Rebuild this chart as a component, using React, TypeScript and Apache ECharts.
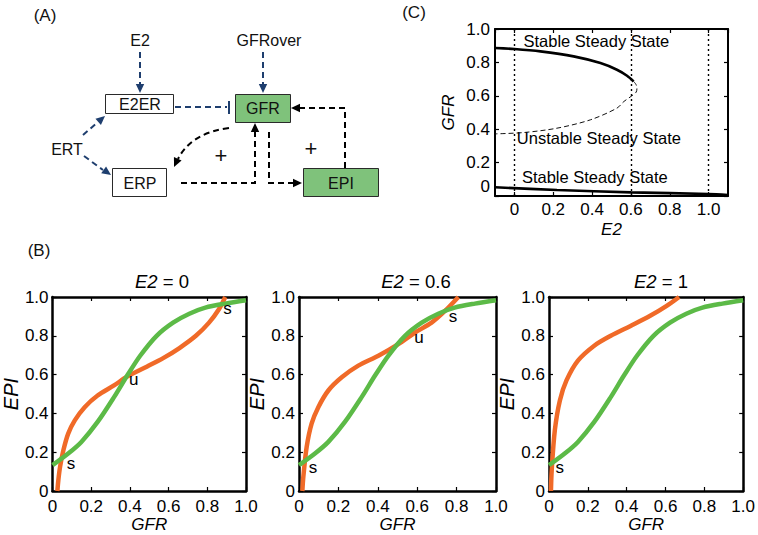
import React, { useEffect, useRef } from 'react';
import * as echarts from 'echarts';

const FONT = '"Liberation Sans", Arial, Helvetica, sans-serif';
const ORANGE = '#f06a28';
const GREEN = '#5cba47';
const BLUE = '#1e3e6e';

// ---------- Panel C: bifurcation diagram (GFR vs E2) ----------
const cUpperStableE2 = [-0.1, 0, 0.134, 0.305, 0.443, 0.528, 0.58, 0.614];
const cUpperStableGFR = [0.886, 0.88, 0.866, 0.836, 0.796, 0.756, 0.72, 0.686];
const cUnstableE2 = [0.614, 0.626, 0.631, 0.627, 0.605, 0.564, 0.528, 0.391, 0.219, 0.048, -0.1];
const cUnstableGFR = [0.686, 0.668, 0.646, 0.622, 0.6, 0.566, 0.526, 0.456, 0.406, 0.38, 0.372];
const cLowerStableE2 = [-0.1, 0.219, 0.6, 1.0, 1.1];
const cLowerStableGFR = [0.052, 0.036, 0.022, 0.012, 0.006];
const cGuideE2 = [0, 0.6, 1.0];
const cRegionText = ['Stable Steady State', 'Unstable Steady State', 'Stable Steady State'];
const cRegionE2 = [0.422, 0.435, 0.414];
const cRegionGFR = [0.93, 0.348, 0.114];

// ---------- Panel B: nullclines (EPI vs GFR) ----------
const panelE2 = ['0', '0.6', '1'];
// EPI nullcline (green), same in all three panels
const greenGFR = [0, 0.081, 0.149, 0.233, 0.318, 0.386, 0.453, 0.538, 0.623, 0.707, 0.79, 0.893, 1.0];
const greenEPI = [0.133, 0.193, 0.253, 0.356, 0.484, 0.595, 0.697, 0.8, 0.868, 0.914, 0.945, 0.966, 0.983];
// GFR nullcline (orange) for E2 = 0, 0.6, 1
const orangeGFR0 = [0.025, 0.03, 0.039, 0.056, 0.081, 0.115, 0.166, 0.233, 0.318, 0.386, 0.487, 0.572, 0.656, 0.741, 0.809, 0.86, 0.893];
const orangeEPI0 = [0, 0.056, 0.125, 0.21, 0.296, 0.364, 0.432, 0.492, 0.544, 0.59, 0.641, 0.685, 0.737, 0.8, 0.868, 0.937, 1.0];
const orangeGFR06 = [0.017, 0.022, 0.039, 0.064, 0.098, 0.149, 0.217, 0.301, 0.403, 0.504, 0.589, 0.673, 0.741, 0.809];
const orangeEPI06 = [0, 0.073, 0.227, 0.347, 0.432, 0.518, 0.586, 0.646, 0.697, 0.757, 0.817, 0.868, 0.928, 1.0];
const orangeGFR1 = [0.01, 0.014, 0.03, 0.056, 0.09, 0.149, 0.233, 0.318, 0.42, 0.521, 0.606, 0.67];
const orangeEPI1 = [0, 0.108, 0.313, 0.467, 0.57, 0.672, 0.749, 0.8, 0.851, 0.903, 0.954, 1.0];
const orangeGFR = [orangeGFR0, orangeGFR06, orangeGFR1];
const orangeEPI = [orangeEPI0, orangeEPI06, orangeEPI1];
// steady-state markers (s = stable, u = unstable)
const markText = [['s', 'u', 's'], ['s', 'u', 's'], ['s']];
const markGFR = [[0.096, 0.42, 0.904], [0.071, 0.609, 0.782], [0.056]];
const markEPI = [[0.144, 0.577, 0.943], [0.119, 0.789, 0.902], [0.119]];

const zip = (a: number[], b: number[]) => a.map((v, i) => [v, b[i]]);

const tickFmt = (v: number) => (Math.abs(v) < 1e-9 ? '0' : v.toFixed(1));

function axesFor(grid: number, x: any, y: any, frameW: number) {
  const line = { show: true, onZero: false, lineStyle: { color: '#000', width: frameW } };
  const tick = { show: true, inside: true, length: 4, lineStyle: { color: '#000', width: 1.2 } };
  const xs = [
    { gridIndex: grid, type: 'value', position: 'bottom', axisLine: line, axisTick: tick, splitLine: { show: false }, ...x },
    { gridIndex: grid, type: 'value', position: 'top', axisLine: line, axisTick: tick, axisLabel: { show: false }, splitLine: { show: false }, min: x.min, max: x.max, interval: x.interval, splitNumber: x.splitNumber },
  ];
  const ys = [
    { gridIndex: grid, type: 'value', position: 'left', axisLine: line, axisTick: tick, splitLine: { show: false }, ...y },
    { gridIndex: grid, type: 'value', position: 'right', axisLine: line, axisTick: tick, axisLabel: { show: false }, splitLine: { show: false }, min: y.min, max: y.max, interval: y.interval },
  ];
  return { xs, ys };
}

function buildDiagram() {
  const els: any[] = [];
  const dashed = (points: number[][], color: string) => ({
    type: 'polyline',
    silent: true,
    shape: { points },
    style: { stroke: color, lineWidth: 2, lineDash: [6, 4], fill: null },
  });
  const head = (tip: number[], from: number[], color: string, len = 9, w = 4.2) => {
    const dx = tip[0] - from[0];
    const dy = tip[1] - from[1];
    const L = Math.hypot(dx, dy);
    const ux = dx / L;
    const uy = dy / L;
    const bx = tip[0] - ux * len;
    const by = tip[1] - uy * len;
    return {
      type: 'polygon',
      silent: true,
      shape: { points: [tip, [bx - uy * w, by + ux * w], [bx + uy * w, by - ux * w]] },
      style: { fill: color },
    };
  };
  const box = (x: number, y: number, w: number, h: number, fill: string) => ({
    type: 'rect',
    silent: true,
    shape: { x, y, width: w, height: h },
    style: { fill, stroke: '#2a2a2a', lineWidth: 1 },
  });
  const txt = (text: string, x: number, y: number, size = 16) => ({
    type: 'text',
    silent: true,
    x,
    y,
    style: { text, fontSize: size, fontFamily: FONT, fill: '#111', align: 'center', verticalAlign: 'middle' },
  });

  // arrows (blue)
  els.push(dashed([[140, 52], [140, 85]], BLUE), head([140, 93], [140, 80], BLUE));
  els.push(dashed([[263, 52], [263, 85]], BLUE), head([263, 93], [263, 80], BLUE));
  els.push(dashed([[175, 107], [227, 107]], BLUE));
  els.push({ type: 'line', silent: true, shape: { x1: 229, y1: 101, x2: 229, y2: 114 }, style: { stroke: BLUE, lineWidth: 2 } });
  els.push(dashed([[83, 135], [98, 122]], BLUE), head([105, 116], [83, 135], BLUE));
  els.push(dashed([[84, 156], [103, 170]], BLUE), head([111, 175], [84, 156], BLUE));
  // arrows (black)
  els.push({
    type: 'bezierCurve',
    silent: true,
    shape: { x1: 229, y1: 128, cpx1: 191, cpy1: 133, x2: 178, y2: 159 },
    style: { stroke: '#000', lineWidth: 2, lineDash: [6, 4], fill: null },
  });
  els.push(head([174, 167], [180, 154], '#000'));
  els.push(dashed([[181, 183], [255, 183], [255, 132]], '#000'), head([255, 123], [255, 140], '#000'));
  els.push(dashed([[269, 132], [269, 183], [293, 183]], '#000'), head([302, 183], [285, 183], '#000'));
  els.push(dashed([[345, 168], [345, 108], [299, 108]], '#000'), head([291, 108], [310, 108], '#000'));

  // boxes
  els.push(box(105.5, 94.5, 68, 19, '#fff'));
  els.push(box(235.5, 94.5, 55, 28, '#7fc27b'));
  els.push(box(112.5, 168.5, 54, 28, '#fff'));
  els.push(box(303.5, 168.5, 75, 28, '#7fc27b'));

  // labels
  els.push(txt('E2', 140, 40), txt('GFRover', 269, 40), txt('ERT', 67, 149));
  els.push(txt('E2ER', 140, 104.5), txt('GFR', 263, 108.5), txt('ERP', 140, 183), txt('EPI', 341, 183));
  els.push(txt('+', 221, 155, 22), txt('+', 311, 148, 22));
  // panel letters
  els.push(txt('(A)', 45, 15, 17), txt('(B)', 39, 250, 17), txt('(C)', 414, 12, 17));
  return els;
}

export default function App() {
  const ref = useRef<HTMLDivElement>(null);
  useEffect(() => {
    if (!ref.current) return;
    const chart = echarts.init(ref.current, null, { renderer: 'svg' });
    const labelStyle = { fontSize: 17, fontFamily: FONT, color: '#000' };
    const nameStyle = { fontSize: 17, fontFamily: FONT, fontStyle: 'italic', color: '#000' };

    const grids: any[] = [{ left: 495, top: 29, width: 233, height: 167 }];
    const bLefts = [49, 299, 549];
    bLefts.forEach((l) => grids.push({ left: l, top: 297, width: 197, height: 194 }));

    const xAxis: any[] = [];
    const yAxis: any[] = [];

    // Panel C axes
    const cA = axesFor(
      0,
      {
        min: -0.1,
        max: 1.1,
        splitNumber: 6,
        name: 'E2',
        nameLocation: 'middle',
        nameGap: 25,
        nameTextStyle: nameStyle,
        axisLabel: { ...labelStyle, margin: 5, showMinLabel: false, showMaxLabel: false, formatter: tickFmt },
      },
      {
        min: 0,
        max: 1,
        interval: 0.2,
        name: 'GFR',
        nameLocation: 'middle',
        nameGap: 38,
        nameTextStyle: nameStyle,
        axisLabel: {
          ...labelStyle,
          margin: 5,
          lineHeight: 20,
          formatter: (v: number) => (Math.abs(v) < 1e-9 ? '0\n ' : v.toFixed(1)),
        },
      },
      2
    );
    xAxis.push(...cA.xs);
    yAxis.push(...cA.ys);

    bLefts.forEach((_, k) => {
      const a = axesFor(
        k + 1,
        {
          min: 0,
          max: 1,
          interval: 0.2,
          name: 'GFR',
          nameLocation: 'middle',
          nameGap: 23,
          nameTextStyle: nameStyle,
          axisLabel: { ...labelStyle, margin: 7, formatter: tickFmt },
        },
        {
          min: 0,
          max: 1,
          interval: 0.2,
          name: 'EPI',
          nameLocation: 'middle',
          nameGap: 30,
          nameTextStyle: { ...nameStyle, fontSize: 20 },
          axisLabel: { ...labelStyle, margin: 4, formatter: tickFmt },
        },
        2.5
      );
      xAxis.push(...a.xs);
      yAxis.push(...a.ys);
    });

    const markLabel = (size: number) => ({
      show: true,
      position: 'inside',
      formatter: '{b}',
      fontSize: size,
      fontFamily: FONT,
      color: '#000',
      textBorderWidth: 0,
      opacity: 1,
    });

    const series: any[] = [];
    // Panel C series
    series.push({
      type: 'line',
      name: 'Stable (upper)',
      xAxisIndex: 0,
      yAxisIndex: 0,
      data: zip(cUpperStableE2, cUpperStableGFR),
      showSymbol: false,
      smooth: 0.3,
      lineStyle: { color: '#000', width: 2.6 },
      z: 3,
    });
    series.push({
      type: 'line',
      name: 'Unstable',
      xAxisIndex: 0,
      yAxisIndex: 0,
      data: zip(cUnstableE2, cUnstableGFR),
      showSymbol: false,
      smooth: 0.3,
      lineStyle: { color: '#111', width: 1, type: [5, 3] },
      z: 3,
    });
    series.push({
      type: 'line',
      name: 'Stable (lower)',
      xAxisIndex: 0,
      yAxisIndex: 0,
      data: zip(cLowerStableE2, cLowerStableGFR),
      showSymbol: false,
      smooth: 0.3,
      lineStyle: { color: '#000', width: 2.6 },
      z: 3,
      markLine: {
        silent: true,
        symbol: 'none',
        label: { show: false },
        lineStyle: { color: '#000', width: 1.4, type: [2, 3] },
        data: cGuideE2.map((v) => ({ xAxis: v })),
      },
    });
    series.push({
      type: 'scatter',
      xAxisIndex: 0,
      yAxisIndex: 0,
      symbol: 'circle',
      symbolSize: 0.1,
      itemStyle: { color: '#000' },
      data: cRegionText.map((t, i) => ({ name: t, value: [cRegionE2[i], cRegionGFR[i]] })),
      label: markLabel(16.5),
      z: 5,
    });

    // Panel B series
    bLefts.forEach((_, k) => {
      const xi = 2 * (k + 1);
      series.push({
        type: 'line',
        name: 'GFR nullcline',
        xAxisIndex: xi,
        yAxisIndex: xi,
        data: zip(orangeGFR[k], orangeEPI[k]),
        showSymbol: false,
        smooth: 0.3,
        lineStyle: { color: ORANGE, width: 4.5 },
        z: 3,
      });
      series.push({
        type: 'line',
        name: 'EPI nullcline',
        xAxisIndex: xi,
        yAxisIndex: xi,
        data: zip(greenGFR, greenEPI),
        showSymbol: false,
        smooth: 0.3,
        lineStyle: { color: GREEN, width: 4.5 },
        z: 4,
      });
      series.push({
        type: 'scatter',
        xAxisIndex: xi,
        yAxisIndex: xi,
        symbol: 'circle',
        symbolSize: 0.1,
        itemStyle: { color: '#000' },
        data: markText[k].map((t, i) => ({ name: t, value: [markGFR[k][i], markEPI[k][i]] })),
        label: markLabel(17),
        z: 5,
      });
    });

    const titleCenters = [157, 411, 656];
    const title = panelE2.map((v, k) => ({
      text: '{i|E2} = ' + v,
      left: titleCenters[k],
      top: 267,
      textAlign: 'center',
      textStyle: {
        fontSize: 18.5,
        fontWeight: 'normal',
        fontFamily: FONT,
        color: '#000',
        rich: { i: { fontStyle: 'italic', fontSize: 18.5, fontFamily: FONT, color: '#000' } },
      },
    }));

    chart.setOption({
      animation: false,
      backgroundColor: '#fff',
      textStyle: { fontFamily: FONT },
      title,
      grid: grids,
      xAxis,
      yAxis,
      series,
      graphic: { elements: buildDiagram() },
    });
    return () => chart.dispose();
  }, []);
  return (
    <div
      ref={ref}
      style={{ position: 'fixed', left: 0, top: 0, width: 758, height: 535, background: '#fff' }}
    />
  );
}
